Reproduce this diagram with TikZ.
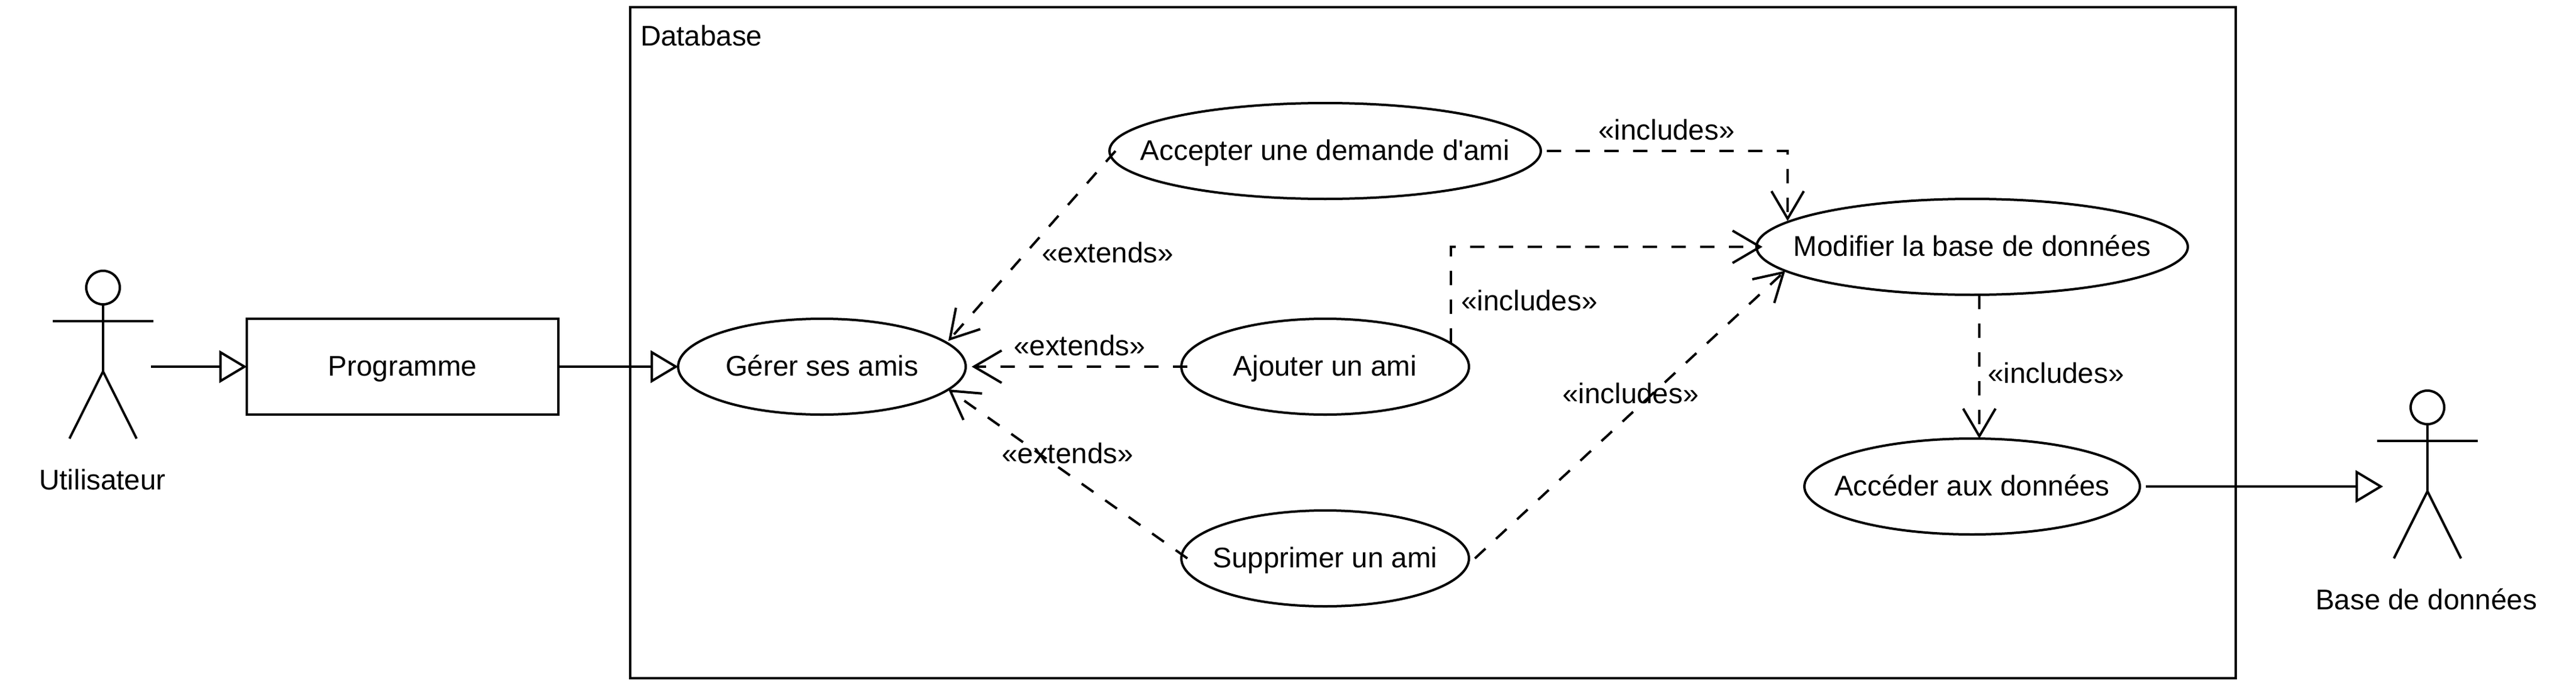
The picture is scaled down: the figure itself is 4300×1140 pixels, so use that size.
\documentclass[tikz,border=0pt]{standalone}
\usepackage{fontspec}
\setmainfont[Ligatures=TeXOff]{Liberation Sans}
\usetikzlibrary{arrows.meta,shapes.geometric}
\newcommand{\uctext}[1]{\makebox[0pt][c]{#1}}
\tikzset{
  x=1pt,y=-1pt,
  every node/.style={font=\fontsize{47.5}{56}\selectfont,inner sep=0pt,outer sep=0pt,text=black},
  line/.style={line width=4pt,draw=black,line join=miter},
  textline/.style={text height=34pt,text depth=4pt},
  usecase/.style={ellipse,line,fill=white,textline,minimum width=#1,minimum height=160pt},
  boxnode/.style={rectangle,line,fill=white,textline,minimum width=520pt,minimum height=160pt},
  frame/.style={rectangle,line,minimum width=2680pt,minimum height=1120pt},
  headnode/.style={circle,line,fill=white,minimum size=56pt},
  label/.style={textline},
  inherit/.style={line,-{Triangle[open,length=46pt,width=54pt,fill=white]}},
  dep/.style={line,dash pattern=on 24pt off 24pt,-{Straight Barb[length=46pt,width=54pt]}},
}
\begin{document}
\begin{tikzpicture}
\useasboundingbox (0,0) rectangle (4300,1140);
% frame
\node[frame] (db) at (2392,572) {};
\node[label,anchor=west] (dbl) at (1069,62) {Database};
% use cases
\node[usecase=480pt] (gerer) at (1372,612) {\uctext{Gérer ses amis}};
\node[usecase=720pt] (accepter) at (2212,252) {\uctext{Accepter une demande d'ami}};
\node[usecase=480pt] (ajouter) at (2212,612) {\uctext{Ajouter un ami}};
\node[usecase=480pt] (supprimer) at (2212,932) {\uctext{Supprimer un ami}};
\node[usecase=720pt] (modifier) at (3292,412) {\uctext{Modifier la base de données}};
\node[usecase=560pt] (acceder) at (3292,812) {\uctext{Accéder aux données}};
\node[boxnode] (prog) at (672,612) {Programme};
% actor 1
\node[headnode] (head1) at (172,480) {};
\coordinate (arml1) at (88,536);
\coordinate (armr1) at (256,536);
\coordinate (hip1) at (172,620);
\coordinate (legl1) at (116,732);
\coordinate (legr1) at (228,732);
\draw[line] (head1.south) -- (hip1);
\draw[line] (arml1) -- (armr1);
\draw[line] (legl1) -- (hip1) -- (legr1);
\node[label] (lab1) at (171,802) {Utilisateur};
% actor 2
\node[headnode] (head2) at (4052,680) {};
\coordinate (arml2) at (3968,736);
\coordinate (armr2) at (4136,736);
\coordinate (hip2) at (4052,820);
\coordinate (legl2) at (3996,932);
\coordinate (legr2) at (4108,932);
\draw[line] (head2.south) -- (hip2);
\draw[line] (arml2) -- (armr2);
\draw[line] (legl2) -- (hip2) -- (legr2);
\node[label] (lab2) at (4050,1002) {Base de données};
% free ends
\coordinate (a1out) at (252,612);
\coordinate (acout) at (3582,812);
\coordinate (a2in) at (3978,812);
\coordinate (acS) at (1862,252);
\coordinate (acE) at (2582,252);
\coordinate (geT) at (1583,569);
\coordinate (geR) at (1622,612);
\coordinate (geB) at (1583,650);
\coordinate (ajW) at (1982,612);
\coordinate (ajN) at (2422,572);
\coordinate (suW) at (1982,932);
\coordinate (suE) at (2462,932);
\coordinate (moT) at (2984,369);
\coordinate (moW) at (2942,412);
\coordinate (moB) at (2980,452);
\coordinate (moS) at (3304,492);
\coordinate (acN) at (3304,732);
% connectors
\draw[inherit] (a1out) -- (prog.west);
\draw[inherit] (prog.east) -- (gerer.west);
\draw[inherit] (acout) -- (a2in);
\draw[dep] (acS) -- (geT);
\draw[dep] (ajW) -- (geR);
\draw[dep] (suW) -- (geB);
\draw[dep] (acE) -| (moT);
\draw[dep] (ajN) |- (moW);
\draw[dep] (suE) -- (moB);
\draw[dep] (moS) -- (acN);
% labels
\node[label] (l1) at (1849,423) {«extends»};
\node[label] (l2) at (1802,578) {«extends»};
\node[label] (l3) at (1782,758) {«extends»};
\node[label] (l4) at (2782,218) {«includes»};
\node[label] (l5) at (2553,503) {«includes»};
\node[label] (l6) at (2722,658) {«includes»};
\node[label] (l7) at (3432,624) {«includes»};
\end{tikzpicture}
\end{document}
